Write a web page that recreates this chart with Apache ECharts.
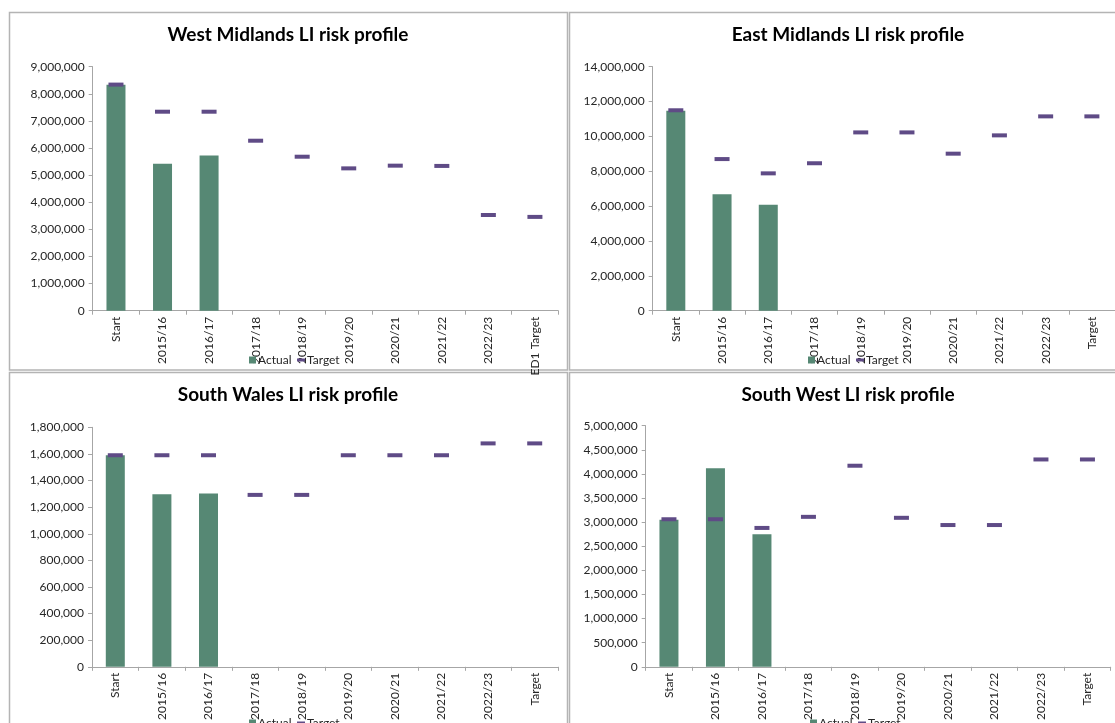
<!DOCTYPE html>
<html>
<head>
<meta charset="utf-8">
<script src="https://cdn.jsdelivr.net/npm/echarts@6/dist/echarts.min.js"></script>
<style>
  html, body { margin: 0; padding: 0; background: #ffffff; }
  #chart { width: 1115px; height: 723px; }
</style>
</head>
<body>
<div id="chart"></div>
<script>
// Category labels
const yearCategories = ['Start', '2015/16', '2016/17', '2017/18', '2018/19', '2019/20', '2020/21', '2021/22', '2022/23'];
const westMidlandsCategories = yearCategories.concat(['ED1 Target']);
const regionCategories = yearCategories.concat(['Target']);

// West Midlands
const westMidlandsActual = [8330000, 5420000, 5720000, null, null, null, null, null, null, null];
const westMidlandsTarget = [8340000, 7340000, 7340000, 6270000, 5680000, 5250000, 5350000, 5340000, 3530000, 3460000];

// East Midlands
const eastMidlandsActual = [11470000, 6680000, 6080000, null, null, null, null, null, null, null];
const eastMidlandsTarget = [11500000, 8700000, 7880000, 8460000, 10230000, 10230000, 9010000, 10060000, 11150000, 11150000];

// South Wales
const southWalesActual = [1590000, 1297000, 1302000, null, null, null, null, null, null, null];
const southWalesTarget = [1590000, 1590000, 1590000, 1292000, 1292000, 1590000, 1590000, 1590000, 1679000, 1679000];

// South West
const southWestActual = [3050000, 4120000, 2750000, null, null, null, null, null, null, null];
const southWestTarget = [3060000, 3060000, 2880000, 3110000, 4170000, 3090000, 2940000, 2940000, 4300000, 4300000];

// Value axis ranges: [max, interval]
const westMidlandsScale = [9000000, 1000000];
const eastMidlandsScale = [14000000, 2000000];
const southWalesScale = [1800000, 200000];
const southWestScale = [5000000, 500000];

const FONT = 'Lato, "Open Sans", sans-serif';
const BAR_COLOR = '#568874';
const TARGET_COLOR = '#5f4b86';
const AXIS_COLOR = '#a6a6a6';
const TEXT_COLOR = '#262626';

const fmt = v => String(Math.round(v)).replace(/\B(?=(\d{3})+(?!\d))/g, ',');

const panels = [
  { title: 'West Midlands LI risk profile', cats: westMidlandsCategories, actual: westMidlandsActual, target: westMidlandsTarget, scale: westMidlandsScale,
    frame: [9.5, 12.5, 558, 357.5], titleX: 288, titleY: 25, grid: { left: 92.7, top: 66.7, width: 465.5, height: 244 }, legend: [249, 354] },
  { title: 'East Midlands LI risk profile', cats: regionCategories, actual: eastMidlandsActual, target: eastMidlandsTarget, scale: eastMidlandsScale,
    frame: [569.5, 12.5, 560, 357.5], titleX: 848, titleY: 25, grid: { left: 652.7, top: 66.7, width: 466, height: 244 }, legend: [808, 354] },
  { title: 'South Wales LI risk profile', cats: regionCategories, actual: southWalesActual, target: southWalesTarget, scale: southWalesScale,
    frame: [9.5, 372.5, 558, 400], titleX: 288, titleY: 385, grid: { left: 92, top: 427.3, width: 466, height: 243.4 }, legend: [249, 717] },
  { title: 'South West LI risk profile', cats: regionCategories, actual: southWestActual, target: southWestTarget, scale: southWestScale,
    frame: [569.5, 372.5, 560, 400], titleX: 848, titleY: 385, grid: { left: 645.7, top: 425.7, width: 465, height: 244 }, legend: [810, 717] }
];

const legendText = { fontFamily: FONT, fontSize: 12, color: TEXT_COLOR, padding: [0, 0, 0, -3] };

const option = {
  backgroundColor: '#ffffff',
  animation: false,
  textStyle: { fontFamily: FONT },
  graphic: panels.map(p => ({
    type: 'rect', silent: true, z: -1,
    shape: { x: p.frame[0], y: p.frame[1], width: p.frame[2], height: p.frame[3] },
    style: { fill: 'none', stroke: '#b4b4b4', lineWidth: 1.5 }
  })),
  title: panels.map(p => ({
    text: p.title, left: p.titleX, top: p.titleY, textAlign: 'center', padding: 0,
    textStyle: { fontFamily: FONT, fontWeight: 'bold', fontSize: 19, color: '#000000' }
  })),
  // One legend per entry so each key gets its own icon size (square vs. dash)
  legend: panels.flatMap(p => [
    {
      left: p.legend[0], top: p.legend[1], padding: 0, selectedMode: false,
      itemWidth: 7, itemHeight: 7, textStyle: legendText,
      data: [{ name: 'Actual', icon: 'rect', itemStyle: { color: BAR_COLOR } }]
    },
    {
      left: p.legend[0] + 48, top: p.legend[1], padding: 0, selectedMode: false,
      itemWidth: 8, itemHeight: 3, textStyle: legendText,
      data: [{ name: 'Target', icon: 'rect', itemStyle: { color: TARGET_COLOR } }]
    }
  ]),
  grid: panels.map(p => Object.assign({ containLabel: false }, p.grid)),
  xAxis: panels.map((p, i) => ({
    type: 'category', gridIndex: i, data: p.cats, boundaryGap: true,
    axisLine: { lineStyle: { color: AXIS_COLOR, width: 1 } },
    axisTick: { show: true, length: 4, lineStyle: { color: AXIS_COLOR } },
    axisLabel: { rotate: 90, margin: 6, interval: 0, fontSize: 12, color: TEXT_COLOR, fontFamily: FONT },
    splitLine: { show: false }
  })),
  yAxis: panels.map((p, i) => ({
    type: 'value', gridIndex: i, min: 0, max: p.scale[0], interval: p.scale[1],
    axisLine: { show: true, lineStyle: { color: AXIS_COLOR, width: 1 } },
    axisTick: { show: true, length: 4, lineStyle: { color: AXIS_COLOR } },
    axisLabel: { margin: 8, fontSize: 12, color: TEXT_COLOR, fontFamily: FONT, formatter: fmt },
    splitLine: { show: false }
  })),
  series: panels.flatMap((p, i) => [
    {
      name: 'Actual', type: 'bar', xAxisIndex: i, yAxisIndex: i,
      data: p.actual, barWidth: 19, itemStyle: { color: BAR_COLOR }, z: 2
    },
    {
      name: 'Target', type: 'scatter', xAxisIndex: i, yAxisIndex: i,
      data: p.target, symbol: 'rect', symbolSize: [15, 4],
      itemStyle: { color: TARGET_COLOR, opacity: 1 }, z: 3
    }
  ])
};

const chart = echarts.init(document.getElementById('chart'), null, { renderer: 'canvas' });
chart.setOption(option);
</script>
</body>
</html>
